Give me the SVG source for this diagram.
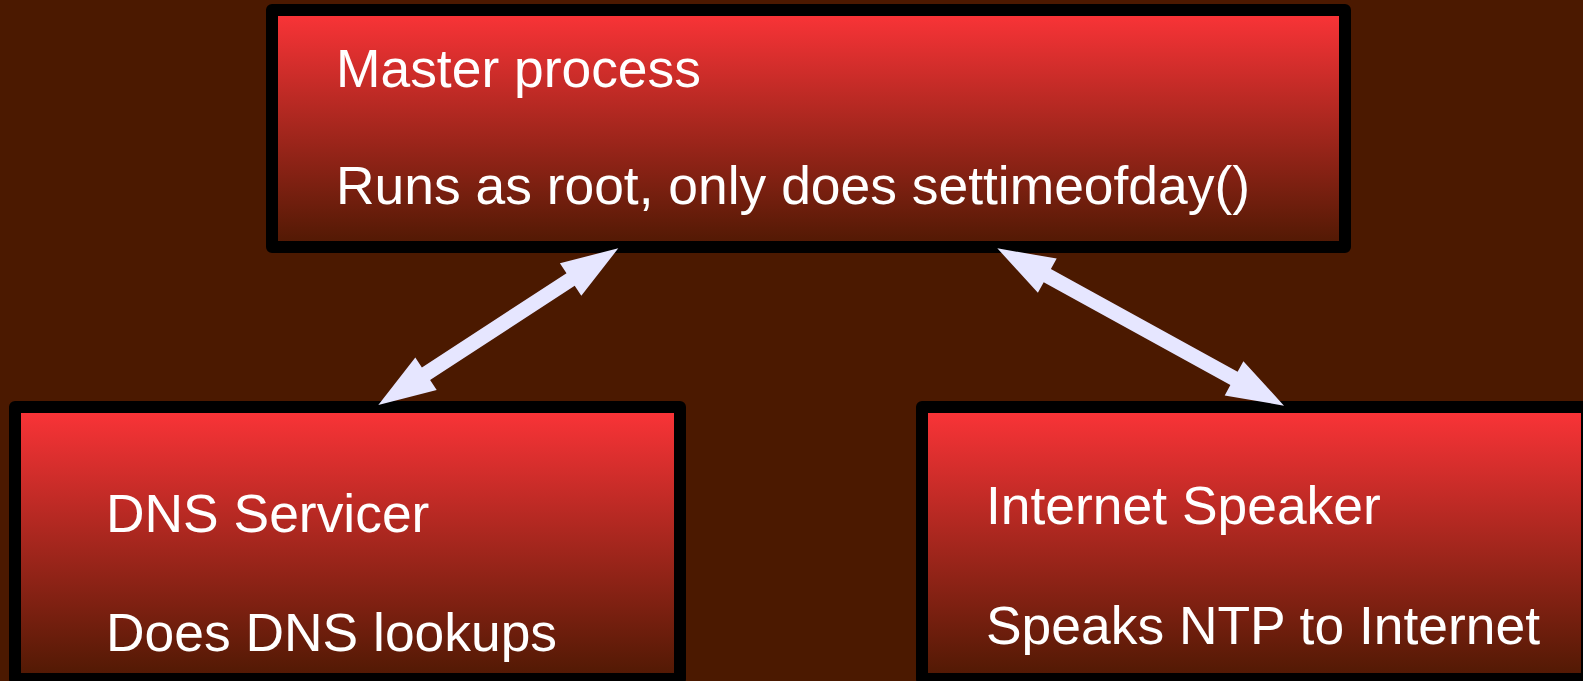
<svg xmlns="http://www.w3.org/2000/svg" width="1583" height="681" viewBox="0 0 1583 681">
  <defs>
    <linearGradient id="boxfill" x1="0" y1="0" x2="0" y2="1">
      <stop offset="0" stop-color="#fc3438"/>
      <stop offset="1" stop-color="#4f1903"/>
    </linearGradient>
    <style>
      .box { fill: url(#boxfill); stroke: #000000; stroke-width: 12; stroke-linejoin: round; }
      .label { font-family: "Liberation Sans", Arial, sans-serif; font-size: 53.4px; fill: #ffffff; }
      .conn { fill: #e6e6ff; stroke: none; }
    </style>
  </defs>
  <rect x="0" y="0" width="1583" height="681" fill="#4b1900"/>
  <g id="master">
    <rect class="box" x="272" y="10" width="1073" height="237"/>
    <text class="label" x="336" y="87">Master process</text>
    <text class="label" x="336" y="204">Runs as root, only does settimeofday()</text>
  </g>
  <g id="dns">
    <rect class="box" x="15" y="407" width="665" height="272"/>
    <text class="label" x="106" y="532">DNS Servicer</text>
    <text class="label" x="106" y="651">Does DNS lookups</text>
  </g>
  <g id="internet">
    <rect class="box" x="922" y="407" width="665" height="272"/>
    <text class="label" x="986" y="524">Internet Speaker</text>
    <text class="label" x="986" y="644">Speaks NTP to Internet</text>
  </g>
  <g id="connectors">
    <polygon class="conn" points="618.3,248.3 581.3,295.8 574.7,285.8 430.1,380.1 436.7,390.1 378.3,405 415.3,357.5 421.9,367.5 566.5,273.2 559.9,263.2"/>
    <polygon class="conn" points="997.3,248.3 1056.7,258.6 1050.9,269.1 1237.6,371.7 1243.4,361.2 1284,405.7 1224.7,395.4 1230.4,384.9 1043.7,282.3 1037.9,292.8"/>
  </g>
</svg>
